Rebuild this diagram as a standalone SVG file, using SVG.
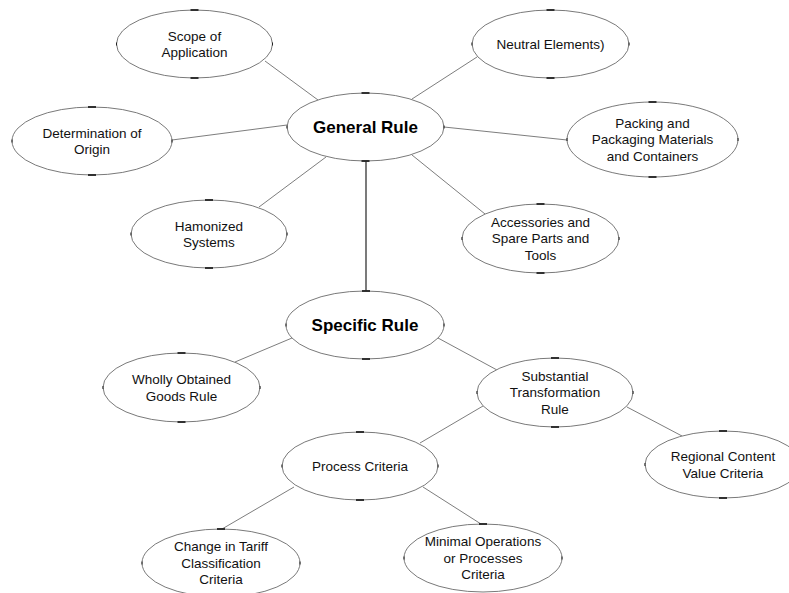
<svg xmlns="http://www.w3.org/2000/svg" width="789" height="593" viewBox="0 0 789 593">
<style>
.e{fill:#fff;stroke:#6a6a6a;stroke-width:0.9}
.t{font-family:"Liberation Sans",Arial,sans-serif;font-size:13.5px;fill:#111;text-anchor:middle}
.b{font-family:"Liberation Sans",Arial,sans-serif;font-size:17px;font-weight:bold;fill:#000;text-anchor:middle}
.c{stroke:#6e6e6e;stroke-width:0.9;fill:none}
.k{stroke:#222;stroke-width:1.8}
.s{stroke:#222;stroke-width:1}
</style>
<rect width="789" height="593" fill="#fff"/>
<g id="connectors">
<line class="c" x1="265" y1="61" x2="318" y2="100"/>
<line class="c" x1="477" y1="57" x2="412" y2="99"/>
<line class="c" x1="172" y1="140" x2="287" y2="125"/>
<line class="c" x1="444" y1="127" x2="567" y2="140"/>
<line class="c" x1="259" y1="207" x2="326" y2="157"/>
<line class="c" x1="412" y1="155" x2="485" y2="214"/>
<line x1="366" y1="161" x2="366" y2="291" stroke="#333" stroke-width="1.3"/>
<line class="c" x1="292" y1="338" x2="235" y2="362"/>
<line class="c" x1="438" y1="338" x2="497" y2="370"/>
<line class="c" x1="483" y1="406" x2="420" y2="443"/>
<line class="c" x1="627" y1="407" x2="682" y2="436"/>
<line class="c" x1="294" y1="487" x2="222" y2="529"/>
<line class="c" x1="423" y1="487" x2="481" y2="524"/>
</g>
<g id="scope">
<ellipse class="e" cx="194.5" cy="44" rx="78" ry="34"/>
<line class="k" x1="190.5" y1="10" x2="198.5" y2="10"/><line class="k" x1="190.5" y1="78" x2="198.5" y2="78"/>
<line class="s" x1="116.5" y1="42.5" x2="116.5" y2="45.5"/><line class="s" x1="272.5" y1="42.5" x2="272.5" y2="45.5"/>
<text class="t" x="194.5" y="40.5">Scope of</text><text class="t" x="194.5" y="57">Application</text>
</g>
<g id="neutral">
<ellipse class="e" cx="550.5" cy="44" rx="78.5" ry="34"/>
<line class="k" x1="546.5" y1="10" x2="554.5" y2="10"/><line class="k" x1="546.5" y1="78" x2="554.5" y2="78"/>
<line class="s" x1="472" y1="42.5" x2="472" y2="45.5"/><line class="s" x1="629" y1="42.5" x2="629" y2="45.5"/>
<text class="t" x="550.5" y="48.8">Neutral Elements)</text>
</g>
<g id="determination">
<ellipse class="e" cx="92" cy="141" rx="80" ry="34"/>
<line class="k" x1="88" y1="107" x2="96" y2="107"/><line class="k" x1="88" y1="175" x2="96" y2="175"/>
<line class="s" x1="12" y1="139.5" x2="12" y2="142.5"/><line class="s" x1="172" y1="139.5" x2="172" y2="142.5"/>
<text class="t" x="92" y="137.5">Determination of</text><text class="t" x="92" y="154">Origin</text>
</g>
<g id="general">
<ellipse class="e" cx="365.5" cy="127" rx="78.5" ry="34"/>
<line class="k" x1="361.5" y1="93" x2="369.5" y2="93"/><line class="k" x1="361.5" y1="161" x2="369.5" y2="161"/>
<line class="s" x1="287" y1="125.5" x2="287" y2="128.5"/><line class="s" x1="444" y1="125.5" x2="444" y2="128.5"/>
<text class="b" x="365.5" y="133">General Rule</text>
</g>
<g id="packing">
<ellipse class="e" cx="652.5" cy="139.5" rx="85.5" ry="37.5"/>
<line class="k" x1="648.5" y1="102" x2="656.5" y2="102"/><line class="k" x1="648.5" y1="177" x2="656.5" y2="177"/>
<line class="s" x1="567" y1="138" x2="567" y2="141"/><line class="s" x1="738" y1="138" x2="738" y2="141"/>
<text class="t" x="652.5" y="127.8">Packing and</text><text class="t" x="652.5" y="144.3">Packaging Materials</text><text class="t" x="652.5" y="160.8">and Containers</text>
</g>
<g id="hamonized">
<ellipse class="e" cx="209" cy="234" rx="78" ry="34"/>
<line class="k" x1="205" y1="200" x2="213" y2="200"/><line class="k" x1="205" y1="268" x2="213" y2="268"/>
<line class="s" x1="131" y1="232.5" x2="131" y2="235.5"/><line class="s" x1="287" y1="232.5" x2="287" y2="235.5"/>
<text class="t" x="209" y="230.5">Hamonized</text><text class="t" x="209" y="247">Systems</text>
</g>
<g id="accessories">
<ellipse class="e" cx="540.5" cy="238.5" rx="78.5" ry="34.5"/>
<line class="k" x1="536.5" y1="204" x2="544.5" y2="204"/><line class="k" x1="536.5" y1="273" x2="544.5" y2="273"/>
<line class="s" x1="462" y1="237" x2="462" y2="240"/><line class="s" x1="619" y1="237" x2="619" y2="240"/>
<text class="t" x="540.5" y="226.8">Accessories and</text><text class="t" x="540.5" y="243.3">Spare Parts and</text><text class="t" x="540.5" y="259.8">Tools</text>
</g>
<g id="specific">
<ellipse class="e" cx="365" cy="325" rx="79" ry="34"/>
<line class="k" x1="362" y1="291" x2="370" y2="291"/><line class="k" x1="362" y1="359" x2="370" y2="359"/>
<line class="s" x1="286" y1="323.5" x2="286" y2="326.5"/><line class="s" x1="444" y1="323.5" x2="444" y2="326.5"/>
<text class="b" x="365" y="331">Specific Rule</text>
</g>
<g id="wholly">
<ellipse class="e" cx="181.5" cy="387.5" rx="78.5" ry="34.5"/>
<line class="k" x1="177.5" y1="353" x2="185.5" y2="353"/><line class="k" x1="177.5" y1="422" x2="185.5" y2="422"/>
<line class="s" x1="103" y1="386" x2="103" y2="389"/><line class="s" x1="260" y1="386" x2="260" y2="389"/>
<text class="t" x="181.5" y="384">Wholly Obtained</text><text class="t" x="181.5" y="400.5">Goods Rule</text>
</g>
<g id="substantial">
<ellipse class="e" cx="555" cy="392.5" rx="78" ry="34.5"/>
<line class="k" x1="551" y1="358" x2="559" y2="358"/><line class="k" x1="551" y1="427" x2="559" y2="427"/>
<line class="s" x1="477" y1="391" x2="477" y2="394"/><line class="s" x1="633" y1="391" x2="633" y2="394"/>
<text class="t" x="555" y="380.8">Substantial</text><text class="t" x="555" y="397.3">Transformation</text><text class="t" x="555" y="413.8">Rule</text>
</g>
<g id="regional">
<ellipse class="e" cx="723" cy="464.5" rx="78" ry="33.5"/>
<line class="k" x1="719" y1="431" x2="727" y2="431"/><line class="k" x1="719" y1="498" x2="727" y2="498"/>
<line class="s" x1="645" y1="463" x2="645" y2="466"/>
<text class="t" x="723" y="461">Regional Content</text><text class="t" x="723" y="477.5">Value Criteria</text>
</g>
<g id="process">
<ellipse class="e" cx="360" cy="466" rx="78" ry="34"/>
<line class="k" x1="356" y1="432" x2="364" y2="432"/><line class="k" x1="356" y1="500" x2="364" y2="500"/>
<line class="s" x1="282" y1="464.5" x2="282" y2="467.5"/><line class="s" x1="438" y1="464.5" x2="438" y2="467.5"/>
<text class="t" x="360" y="470.8">Process Criteria</text>
</g>
<g id="change">
<ellipse class="e" cx="221" cy="563" rx="79" ry="34"/>
<line class="k" x1="217" y1="529" x2="225" y2="529"/>
<line class="s" x1="142" y1="561.5" x2="142" y2="564.5"/><line class="s" x1="300" y1="561.5" x2="300" y2="564.5"/>
<text class="t" x="221" y="551.3">Change in Tariff</text><text class="t" x="221" y="567.8">Classification</text><text class="t" x="221" y="584.3">Criteria</text>
</g>
<g id="minimal">
<ellipse class="e" cx="483" cy="558" rx="79" ry="34"/>
<line class="k" x1="479" y1="524" x2="487" y2="524"/>
<line class="s" x1="404" y1="556.5" x2="404" y2="559.5"/><line class="s" x1="562" y1="556.5" x2="562" y2="559.5"/>
<text class="t" x="483" y="546.3">Minimal Operations</text><text class="t" x="483" y="562.8">or Processes</text><text class="t" x="483" y="579.3">Criteria</text>
</g>
</svg>
